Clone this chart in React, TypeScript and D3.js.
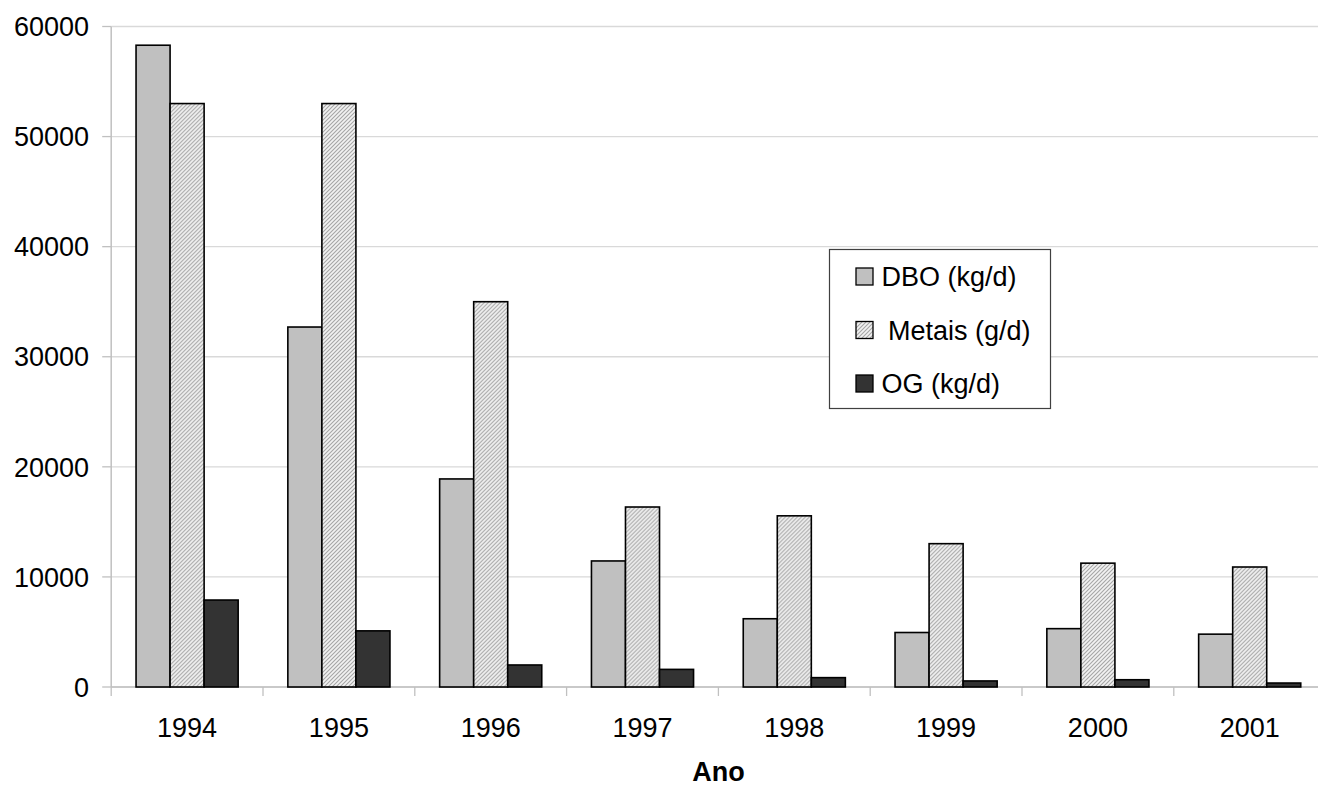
import React from "react";
import * as d3 from "d3";

const years = ["1994", "1995", "1996", "1997", "1998", "1999", "2000", "2001"];
const seriesNames = ["DBO (kg/d)", "Metais (g/d)", "OG (kg/d)"];
const dbo = [58300, 32700, 18900, 11450, 6200, 4950, 5300, 4800];
const metais = [53000, 53000, 35000, 16350, 15550, 13020, 11250, 10900];
const og = [7900, 5100, 2000, 1600, 850, 550, 660, 360];
const yTicks = [0, 10000, 20000, 30000, 40000, 50000, 60000];

const W = 1318;
const H = 787;
const left = 111.2;
const right = 1325.6;
const top = 26.5;
const bottom = 687;
const FONT = "'Liberation Sans', Arial, sans-serif";
const FS = 27;

export default function App() {
  const x0 = d3.scaleBand<string>().domain(years).range([left, right]).padding(0);
  const x1 = d3
    .scaleBand<string>()
    .domain(seriesNames)
    .range([0, x0.bandwidth()])
    .paddingInner(0)
    .paddingOuter(0.73);
  const y = d3.scaleLinear().domain([0, 60000]).range([bottom, top]);
  const values = [dbo, metais, og];
  const fills = ["#c0c0c0", "url(#hatch)", "#333333"];

  return (
    <svg
      width={W}
      height={H}
      style={{ position: "absolute", left: 0, top: 0, background: "#fff" }}
      fontFamily={FONT}
    >
      <defs>
        <pattern id="hatch" patternUnits="userSpaceOnUse" width="4" height="4">
          <rect width="4" height="4" fill="#f2f2f2" />
          <path d="M-1,1 l2,-2 M0,4 l4,-4 M3,5 l2,-2" stroke="#a6a6a6" strokeWidth="1.1" />
        </pattern>
      </defs>
      {/* gridlines */}
      {yTicks.map((t) => (
        <line key={"g" + t} x1={left} x2={W} y1={y(t)} y2={y(t)} stroke="#d9d9d9" strokeWidth={1.3} />
      ))}
      {/* y axis */}
      <line x1={left} x2={left} y1={top} y2={bottom} stroke="#c0c0c0" strokeWidth={1.5} />
      {yTicks.map((t) => (
        <g key={"yt" + t}>
          <line x1={left - 9} x2={left} y1={y(t)} y2={y(t)} stroke="#c0c0c0" strokeWidth={1.3} />
          <text x={89} y={y(t)} dy="0.36em" textAnchor="end" fontSize={FS} fill="#000">
            {t}
          </text>
        </g>
      ))}
      {/* x axis */}
      <line x1={left} x2={W} y1={bottom} y2={bottom} stroke="#c0c0c0" strokeWidth={1.5} />
      {years.map((yr) => (
        <line
          key={"xt" + yr}
          x1={x0(yr)!}
          x2={x0(yr)!}
          y1={bottom}
          y2={bottom + 9}
          stroke="#c0c0c0"
          strokeWidth={1.3}
        />
      ))}
      {/* bars */}
      {years.map((yr, i) => (
        <g key={"bars" + yr} transform={`translate(${x0(yr)},0)`}>
          {seriesNames.map((s, j) => (
            <rect
              key={s}
              x={x1(s)!}
              y={y(values[j][i])}
              width={x1.bandwidth()}
              height={bottom - y(values[j][i])}
              fill={fills[j]}
              stroke="#000"
              strokeWidth={1.6}
            />
          ))}
        </g>
      ))}
      {/* x labels */}
      {years.map((yr) => (
        <text
          key={"xl" + yr}
          x={x0(yr)! + x0.bandwidth() / 2}
          y={737}
          textAnchor="middle"
          fontSize={FS}
          fill="#000"
        >
          {yr}
        </text>
      ))}
      <text x={(left + right) / 2} y={781} textAnchor="middle" fontSize={FS} fontWeight="bold" fill="#000">
        Ano
      </text>
      {/* legend */}
      <g>
        <rect x={829.5} y={249.5} width={221} height={159} fill="#fff" stroke="#404040" strokeWidth={1.2} />
        {seriesNames.map((s, j) => {
          const cy = 276.5 + j * 53.5;
          return (
            <g key={"lg" + s}>
              <rect x={856} y={cy - 8.5} width={17} height={17} fill={fills[j]} stroke="#000" strokeWidth={1.3} />
              <text x={j === 1 ? 888 : 881.5} y={cy} dy="0.36em" fontSize={FS} fill="#000">
                {s}
              </text>
            </g>
          );
        })}
      </g>
    </svg>
  );
}
